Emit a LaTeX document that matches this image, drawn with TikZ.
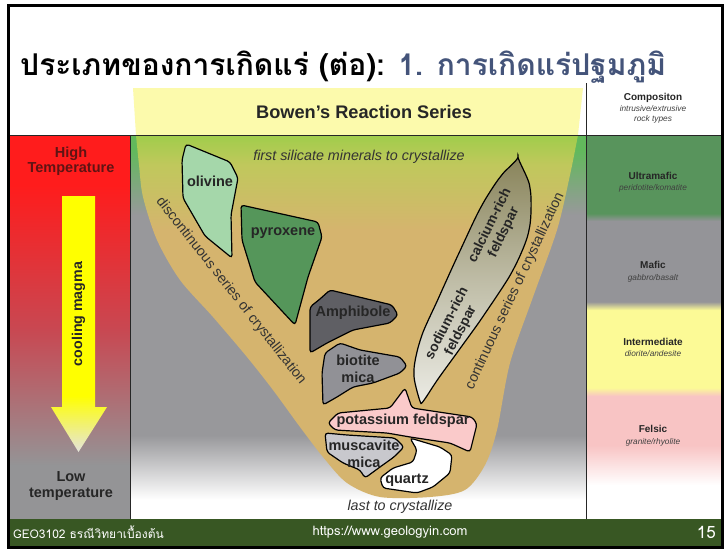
\documentclass[tikz,border=0pt]{standalone}
\usepackage{fontspec}
\setmainfont{Liberation Sans}
\newfontfamily\thaifont[Script=Thai]{Loma}

\definecolor{hotred}{RGB}{255,28,28}
\definecolor{midred}{RGB}{200,72,82}
\definecolor{coolgray}{RGB}{148,148,150}
\definecolor{bodygreen}{RGB}{98,185,92}
\definecolor{bodygray}{RGB}{152,152,155}
\definecolor{limegreen}{RGB}{160,205,75}
\definecolor{palelime}{RGB}{192,200,92}
\definecolor{funneltan}{RGB}{213,180,110}
\definecolor{paleyellow}{RGB}{252,250,172}
\definecolor{umgreen}{RGB}{88,148,92}
\definecolor{maficgray}{RGB}{148,148,152}
\definecolor{intyellow}{RGB}{252,250,150}
\definecolor{felsicpink}{RGB}{248,196,196}
\definecolor{arrowyellow}{RGB}{255,255,0}
\definecolor{arrowtip}{RGB}{228,228,222}
\definecolor{hightext}{RGB}{95,20,20}
\definecolor{titleblue}{RGB}{68,84,122}
\definecolor{footgreen}{RGB}{56,87,35}
\definecolor{olivinecol}{RGB}{165,215,170}
\definecolor{pyroxenecol}{RGB}{85,150,90}
\definecolor{amphibolecol}{RGB}{95,95,100}
\definecolor{biotitecol}{RGB}{145,145,150}
\definecolor{kfeldcol}{RGB}{250,202,202}
\definecolor{muscovitecol}{RGB}{200,200,205}
\definecolor{calciumcol}{RGB}{138,133,92}
\definecolor{sodiumcol}{RGB}{236,236,230}

\pgfdeclareverticalshading{leftcolshade}{100bp}{color(0bp)=(coolgray); color(32bp)=(coolgray); color(49.6bp)=(midred); color(68.5bp)=(hotred); color(100bp)=(hotred)}
\pgfdeclareverticalshading{bodyshade}{100bp}{color(0bp)=(white); color(27.5bp)=(white); color(35.9bp)=(bodygray); color(64.6bp)=(bodygray); color(73bp)=(bodygreen); color(100bp)=(bodygreen)}
\pgfdeclareverticalshading{funnelshade}{100bp}{color(0bp)=(funneltan); color(61.9bp)=(funneltan); color(70.9bp)=(palelime); color(75bp)=(limegreen); color(100bp)=(limegreen)}
\pgfdeclareverticalshading{rightcolshade}{100bp}{color(0bp)=(white); color(29.4bp)=(white); color(34.6bp)=(felsicpink); color(41bp)=(felsicpink); color(42.1bp)=(intyellow); color(52.2bp)=(intyellow); color(53.3bp)=(maficgray); color(63.8bp)=(maficgray); color(64.8bp)=(umgreen); color(100bp)=(umgreen)}
\pgfdeclareverticalshading{arrowshade}{100bp}{color(0bp)=(arrowtip); color(25bp)=(arrowtip); color(36bp)=(arrowyellow); color(100bp)=(arrowyellow)}

\tikzset{
  mineral/.style={draw=black,line width=1.2pt,rounded corners=3pt},
  minlabel/.style={font=\fontsize{14.5}{17}\selectfont\bfseries,text=black!85,align=center,inner sep=0pt},
  leaflabel/.style={minlabel,font=\fontsize{13.8}{15.5}\selectfont\bfseries},
  notelabel/.style={font=\fontsize{14.3}{16}\selectfont\itshape,text=black!80,inner sep=0pt},
  serieslabel/.style={font=\fontsize{14.2}{16}\selectfont,text=black!80,inner sep=0pt},
  compname/.style={font=\fontsize{10}{12}\selectfont\bfseries,text=black!85,inner sep=0pt},
  compnote/.style={font=\fontsize{8.3}{10}\selectfont\itshape,text=black!75,align=center,inner sep=0pt},
  templabel/.style={font=\fontsize{14.5}{15.5}\selectfont\bfseries,align=center,inner sep=0pt},
  foottext/.style={font=\thaifont\fontsize{12}{14}\selectfont,text=white,inner sep=0pt},
  gridline/.style={draw=black!85,line width=1pt}
}

\begin{document}
\begin{tikzpicture}[x=1pt,y=-1pt]
\useasboundingbox (0,0) rectangle (724,549);
\fill[white] (0,0) rectangle (724,549);
\node[anchor=base west,inner sep=0pt,font=\thaifont\bfseries\fontsize{30}{36}\selectfont] (title) at (20,75) {ประเภทของการเกิดแร่ (ต่อ): \textcolor{titleblue}{1. การเกิดแร่ปฐมภูมิ}};
\fill[paleyellow] (133,88) -- (583,88) -- (578,135) -- (136,135) -- cycle;
\shade[shading=leftcolshade] (10,135) rectangle (130,519);
\shade[shading=bodyshade] (130,135) rectangle (586,519);
\shade[shading=rightcolshade] (586,135) rectangle (721,519);
\shade[shading=funnelshade] plot[smooth] coordinates {(136,135) (139,165) (143,197) (157,240) (180,280) (213,317) (247,357) (273,390) (300,427) (323,457) (347,483) (380,497) (430,497) (465,490) (485,465) (497,430) (510,363) (533,297) (557,230) (570,175) (578,135)} -- cycle;
\draw[gridline] (10,135) -- (721,135);
\draw[gridline] (130,135) -- (130,519);
\draw[gridline] (586,83) -- (586,519);
\node[font=\fontsize{18.2}{21}\selectfont\bfseries,text=black!85,inner sep=0pt] (bowen) at (364,112) {Bowen’s Reaction Series};
\node[compname] (compos) at (653,98) {Compositon};
\node[compnote] (composnote) at (653,114) {intrusive/extrusive\\rock types};
\node[compname] (ultramafic) at (653,176) {Ultramafic};
\node[compnote] (ultramaficnote) at (653,188) {peridotite/komatite};
\node[compname] (mafic) at (653,265) {Mafic};
\node[compnote] (maficnote) at (653,278) {gabbro/basalt};
\node[compname] (intermediate) at (653,342) {Intermediate};
\node[compnote] (intermediatenote) at (653,354) {diorite/andesite};
\node[compname] (felsic) at (653,429) {Felsic};
\node[compnote] (felsicnote) at (653,442) {granite/rhyolite};
\node[templabel,text=hightext] (hightemp) at (71,161) {High\\Temperature};
\node[templabel,text=black!85] (lowtemp) at (71,486) {Low\\temperature};
\shade[shading=arrowshade] (62,196) -- (95,196) -- (95,407) -- (107,407) -- (78.5,452) -- (51,407) -- (62,407) -- cycle;
\node[templabel,rotate=90,font=\fontsize{14.2}{15}\selectfont\bfseries,text=black!85] (cooling) at (78.5,314) {cooling magma};
\node[notelabel] (firstmin) at (359,157) {first silicate minerals to crystallize};
\node[notelabel] (lastmin) at (400,507) {last to crystallize};
\node[serieslabel,rotate=-51.8] (discont) at (231,291) {discontinuous series of crystallization};
\node[serieslabel,rotate=65] (cont) at (515,291) {continuous series of crystallization};
\draw[mineral,fill=olivinecol] (186,144) -- (230,162) -- (238,178) -- (231,215) -- (232,258) -- (205,236) -- (183,198) -- (182,160) -- cycle;
\node[minlabel] (olivine) at (210,181) {olivine};
\draw[mineral,fill=pyroxenecol] (241,205) -- (318,222) -- (322,237) -- (308,277) -- (295,325) -- (255,282) -- (242,240) -- cycle;
\node[minlabel] (pyroxene) at (283,233) {pyroxene};
\draw[mineral,fill=amphibolecol] (330,290) -- (392,305) -- (398,315) -- (390,323) -- (353,330) -- (327,343) -- (310,353) -- (310,307) -- (320,299) -- cycle;
\node[minlabel] (amphibole) at (353,313) {Amphibole};
\draw[mineral,fill=biotitecol] (340,343) -- (360,350) -- (400,357) -- (407,366) -- (400,373) -- (373,383) -- (353,387) -- (337,397) -- (323,405) -- (322,373) -- (325,353) -- cycle;
\node[minlabel] (biotite) at (358,369) {biotite\\mica};
\draw[mineral,top color=calciumcol,bottom color=sodiumcol,middle color=calciumcol!45!sodiumcol] plot[smooth] coordinates {(421,406) (414,373) (421,338) (439,297) (459,253) (481,207) (501,176) (518,160)} -- plot[smooth] coordinates {(518,160) (530,188) (529,230) (513,270) (484,315) (459,350) (436,382) (421,406)} -- cycle;
\node[leaflabel,rotate=64] (calcium) at (497,229) {calcium-rich\\feldspar};
\node[leaflabel,rotate=63] (sodium) at (454,327) {sodium-rich\\feldspar};
\draw[mineral,fill=kfeldcol] (338,413) -- (390,408) -- (405,388) -- (412,408) -- (472,417) -- (477,424) -- (470,452) -- (450,443) -- (410,437) -- (387,433) -- (335,430) -- (328,423) -- cycle;
\node[minlabel] (kfeldspar) at (403,421) {potassium feldspar};
\draw[mineral,fill=muscovitecol] (325,433) -- (347,435) -- (395,438) -- (404,447) -- (394,457) -- (380,467) -- (365,478) -- (360,470) -- (343,463) -- (327,452) -- cycle;
\node[minlabel] (muscavite) at (364,454) {muscavite\\mica};
\draw[mineral,fill=white] (410,438) -- (440,447) -- (452,455) -- (450,473) -- (433,487) -- (417,493) -- (383,488) -- (380,478) -- (393,468) -- (413,462) -- (417,450) -- cycle;
\node[minlabel] (quartz) at (407,480) {quartz};
\fill[footgreen] (9,519) rectangle (722,546);
\node[foottext,anchor=west] (course) at (13,532.5) {GEO3102 ธรณีวิทยาเบื้องต้น};
\node[foottext,font=\thaifont\fontsize{13}{15}\selectfont] (website) at (390,532.5) {https://www.geologyin.com};
\node[foottext,anchor=east,font=\thaifont\fontsize{17}{19}\selectfont] (pagenum) at (716,532.5) {15};
\draw[line width=2.5pt] (8.5,5.5) rectangle (722.5,547.5);
\end{tikzpicture}
\end{document}
